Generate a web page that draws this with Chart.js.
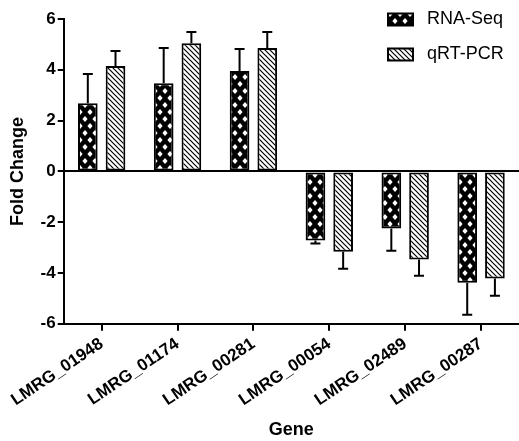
<!DOCTYPE html>
<html>
<head>
<meta charset="utf-8">
<script src="https://cdn.jsdelivr.net/npm/chart.js@4/dist/chart.umd.min.js"></script>
<style>
  html, body { margin: 0; padding: 0; background: #fff; }
  canvas { display: block; }
</style>
</head>
<body>
<canvas id="foldChart" width="519" height="441"></canvas>
<script>
// data
const genes = ['LMRG_01948', 'LMRG_01174', 'LMRG_00281', 'LMRG_00054', 'LMRG_02489', 'LMRG_00287'];
const rnaSeq = [2.68, 3.47, 3.95, -2.72, -2.25, -4.38];
const rnaSeqErr = [1.15, 1.39, 0.87, 0.12, 0.87, 1.26];
const qrtPcr = [4.15, 5.05, 4.86, -3.16, -3.47, -4.22];
const qrtPcrErr = [0.59, 0.44, 0.63, 0.67, 0.64, 0.68];
const yTicks = [-6, -4, -2, 0, 2, 4, 6];

const FONT = 'Arial, "Liberation Sans", sans-serif';

// crosshatch: black with white diamonds
function crossPattern() {
    const w = 10, h = 14;
    const c = document.createElement('canvas');
    c.width = w; c.height = h;
    const g = c.getContext('2d');
    g.fillStyle = '#000';
    g.fillRect(0, 0, w, h);
    g.fillStyle = '#fff';
    const diamond = (x, y) => {
        g.beginPath();
        g.moveTo(x, y - 3); g.lineTo(x + 2.6, y); g.lineTo(x, y + 3); g.lineTo(x - 2.6, y);
        g.closePath(); g.fill();
    };
    diamond(w / 2, h / 2);
    diamond(0, 0); diamond(w, 0); diamond(0, h); diamond(w, h);
    return g.createPattern(c, 'repeat');
}

// back-slash hatch
function hatchPattern() {
    const s = 5;
    const c = document.createElement('canvas');
    c.width = s; c.height = s;
    const g = c.getContext('2d');
    g.fillStyle = '#fff';
    g.fillRect(0, 0, s, s);
    g.strokeStyle = '#000';
    g.lineWidth = 1.2;
    g.beginPath();
    g.moveTo(-1, -1); g.lineTo(s + 1, s + 1);
    g.moveTo(-1, s - 1); g.lineTo(1, s + 1);
    g.moveTo(s - 1, -1); g.lineTo(s + 1, 1);
    g.stroke();
    return g.createPattern(c, 'repeat');
}

const errorBars = {
    id: 'errorBars',
    afterDatasetsDraw(chart) {
        const ctx = chart.ctx;
        const y = chart.scales.y;
        ctx.save();
        ctx.strokeStyle = '#000';
        ctx.lineWidth = 2;
        chart.data.datasets.forEach((ds, i) => {
            const meta = chart.getDatasetMeta(i);
            meta.data.forEach((bar, j) => {
                const v = ds.data[j];
                const end = y.getPixelForValue(v + Math.sign(v) * ds.errors[j]);
                ctx.beginPath();
                ctx.moveTo(bar.x, bar.y);
                ctx.lineTo(bar.x, end);
                ctx.moveTo(bar.x - 5, end);
                ctx.lineTo(bar.x + 5, end);
                ctx.stroke();
            });
        });
        ctx.restore();
    }
};

const boxLegend = {
    id: 'boxLegend',
    afterDraw(chart) {
        const ctx = chart.ctx;
        const x0 = chart.width - 131;
        ctx.save();
        ctx.font = '18px ' + FONT;
        ctx.textBaseline = 'middle';
        chart.data.datasets.forEach((ds, i) => {
            const yc = 19.5 + i * 35;
            ctx.fillStyle = ds.backgroundColor;
            ctx.fillRect(x0, yc - 6, 25, 12);
            ctx.strokeStyle = '#000';
            ctx.lineWidth = 2;
            ctx.strokeRect(x0, yc - 6, 25, 12);
            ctx.fillStyle = '#000';
            ctx.fillText(ds.label, x0 + 39, yc);
        });
        ctx.restore();
    }
};

const ctx = document.getElementById('foldChart').getContext('2d');
const foldChart = new Chart(ctx, {
    type: 'bar',
    data: {
        labels: genes,
        datasets: [
            {
                label: 'RNA-Seq',
                data: rnaSeq,
                errors: rnaSeqErr,
                backgroundColor: crossPattern(),
                borderColor: '#000',
                borderWidth: 2,
                borderSkipped: false
            },
            {
                label: 'qRT-PCR',
                data: qrtPcr,
                errors: qrtPcrErr,
                backgroundColor: hatchPattern(),
                borderColor: '#000',
                borderWidth: 2,
                borderSkipped: false
            }
        ]
    },
    options: {
        responsive: false,
        animation: false,
        categoryPercentage: 0.73,
        barPercentage: 0.71,
        layout: { padding: { top: 19, right: 0, left: 7, bottom: 0 } },
        plugins: {
            legend: { display: false },
            tooltip: { enabled: false }
        },
        scales: {
            x: {
                grid: {
                    offset: false,
                    drawOnChartArea: false,
                    tickLength: 7,
                    tickColor: '#000',
                    lineWidth: 2
                },
                border: { color: '#000', width: 2 },
                ticks: {
                    color: '#000',
                    font: { family: FONT, size: 17, weight: 'bold' },
                    minRotation: 34,
                    maxRotation: 34,
                    padding: 3
                },
                title: {
                    display: true,
                    text: 'Gene',
                    color: '#000',
                    font: { family: FONT, size: 18, weight: 'bold' },
                    padding: { top: 6, bottom: 0 }
                }
            },
            y: {
                min: -6,
                max: 6,
                afterBuildTicks: function (scale) {
                    scale.ticks = yTicks.map(v => ({ value: v }));
                },
                grid: {
                    color: function (c) {
                        return c.tick && c.tick.value === 0 ? '#000' : 'rgba(0,0,0,0)';
                    },
                    tickColor: '#000',
                    tickLength: 6,
                    lineWidth: 2
                },
                border: { color: '#000', width: 2 },
                ticks: {
                    color: '#000',
                    font: { family: FONT, size: 17, weight: 'bold' },
                    padding: 2
                },
                title: {
                    display: true,
                    text: 'Fold Change',
                    color: '#000',
                    font: { family: FONT, size: 18, weight: 'bold' },
                    padding: { top: 0, bottom: 10 }
                }
            }
        }
    },
    plugins: [errorBars, boxLegend]
});
</script>
</body>
</html>
